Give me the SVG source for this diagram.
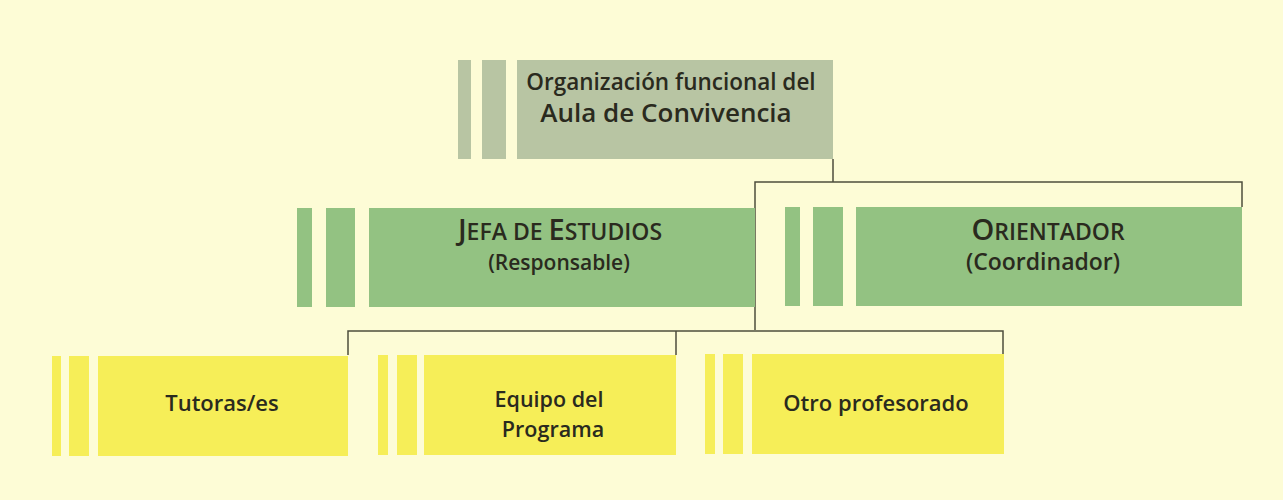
<svg xmlns="http://www.w3.org/2000/svg" width="1283" height="500" viewBox="0 0 1283 500">
  <style>
    .bg { fill: #fdfcd6; }
    .gray { fill: #b8c5a3; }
    .green { fill: #93c282; }
    .yellow { fill: #f6ee58; }
    .conn { fill: none; stroke: #4d4d3d; stroke-width: 1.5; }
    text { font-family: "Open Sans", "Liberation Sans", sans-serif; font-weight: 600; fill: #2a2a1e; text-anchor: middle; }
    .t1 { font-size: 22.5px; }
    .t2 { font-size: 26px; }
    .cap { font-size: 29px; }
    .sc { font-size: 23px; }
    .sub1 { font-size: 21px; }
    .sub2 { font-size: 23px; }
    .lab { font-size: 22px; }
    .lab2 { font-size: 21.5px; }
  </style>
  <rect class="bg" x="0" y="0" width="1283" height="500"/>

  <g id="connectors">
    <polyline class="conn" points="833,159 833,182"/>
    <polyline class="conn" points="755,330 755,182 1242,182 1242,207"/>
    <polyline class="conn" points="348,355 348,331 1003,331 1003,355"/>
    <polyline class="conn" points="676,331 676,355"/>
  </g>

  <g id="node-organizacion">
    <rect class="gray" x="458" y="60" width="13" height="99"/>
    <rect class="gray" x="482" y="60" width="24" height="99"/>
    <rect class="gray" x="517" y="60" width="316" height="99"/>
    <text class="t1" x="671" y="90">Organización funcional del</text>
    <text class="t2" x="666" y="122">Aula de Convivencia</text>
  </g>

  <g id="node-jefa">
    <rect class="green" x="297" y="208" width="15" height="99"/>
    <rect class="green" x="326" y="208" width="29" height="99"/>
    <rect class="green" x="369" y="208" width="386" height="99"/>
    <text x="560" y="240"><tspan class="cap">J</tspan><tspan class="sc">EFA DE </tspan><tspan class="cap">E</tspan><tspan class="sc">STUDIOS</tspan></text>
    <text class="sub1" x="559" y="270">(Responsable)</text>
  </g>

  <g id="node-orientador">
    <rect class="green" x="785" y="207" width="15" height="99"/>
    <rect class="green" x="813" y="207" width="30" height="99"/>
    <rect class="green" x="856" y="207" width="386" height="99"/>
    <text x="1048" y="240"><tspan class="cap">O</tspan><tspan class="sc">RIENTADOR</tspan></text>
    <text class="sub2" x="1043" y="270">(Coordinador)</text>
  </g>

  <g id="node-tutoras">
    <rect class="yellow" x="52" y="356" width="9" height="100"/>
    <rect class="yellow" x="69" y="356" width="20" height="100"/>
    <rect class="yellow" x="98" y="356" width="250" height="100"/>
    <text class="lab" x="222" y="411">Tutoras/es</text>
  </g>

  <g id="node-equipo">
    <rect class="yellow" x="378" y="355" width="10" height="100"/>
    <rect class="yellow" x="397" y="355" width="20" height="100"/>
    <rect class="yellow" x="424" y="355" width="252" height="100"/>
    <text class="lab2" x="549" y="407">Equipo del</text>
    <text class="lab2" x="553" y="437">Programa</text>
  </g>

  <g id="node-otro">
    <rect class="yellow" x="705" y="354" width="10" height="100"/>
    <rect class="yellow" x="723" y="354" width="20" height="100"/>
    <rect class="yellow" x="752" y="354" width="252" height="100"/>
    <text class="lab" x="876" y="411">Otro profesorado</text>
  </g>
</svg>
